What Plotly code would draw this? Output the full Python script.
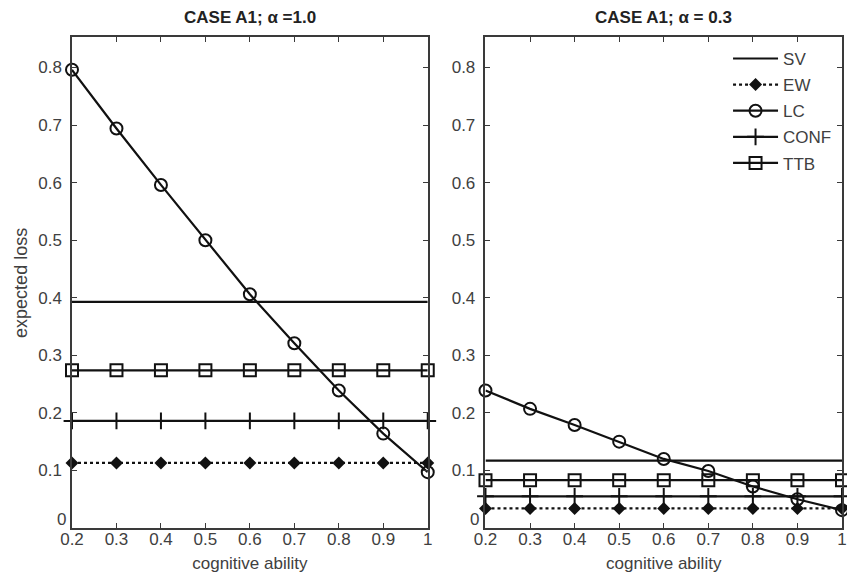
import plotly.graph_objects as go

ability = [0.2, 0.3, 0.4, 0.5, 0.6, 0.7, 0.8, 0.9, 1.0]

# Panel 1: alpha = 1.0
sv_a = [0.393] * 9
ew_a = [0.113] * 9
lc_a = [0.796, 0.694, 0.596, 0.500, 0.406, 0.321, 0.239, 0.164, 0.097]
conf_a = [0.186] * 9
ttb_a = [0.274] * 9

# Panel 2: alpha = 0.3
sv_b = [0.117] * 9
ew_b = [0.034] * 9
lc_b = [0.239, 0.207, 0.179, 0.150, 0.120, 0.099, 0.072, 0.050, 0.031]
conf_b = [0.055] * 9
ttb_b = [0.083] * 9

titles = ["CASE A1; α =1.0", "CASE A1; α = 0.3"]
y_label = "expected loss"
x_label = "cognitive ability"
yticks = [0, 0.1, 0.2, 0.3, 0.4, 0.5, 0.6, 0.7, 0.8]
ytick_text = ["0", "0.1", "0.2", "0.3", "0.4", "0.5", "0.6", "0.7", "0.8"]
xticks = [0.2, 0.3, 0.4, 0.5, 0.6, 0.7, 0.8, 0.9, 1.0]
xtick_text = ["0.2", "0.3", "0.4", "0.5", "0.6", "0.7", "0.8", "0.9", "1"]

INK = "#111111"
AX = "#3a3a3a"
TXT = "#404040"
FONT = "Liberation Sans, Arial, sans-serif"

fig = go.Figure()

def add_panel(sv, ew, lc, conf, ttb, xa, ya, show):
    common = dict(x=ability, xaxis=xa, yaxis=ya, cliponaxis=False, showlegend=show)
    fig.add_trace(go.Scatter(y=sv, name="SV", mode="lines", line=dict(color=INK, width=2.2),
                             legendgroup="SV", **common))
    fig.add_trace(go.Scatter(y=ew, name="EW", mode="lines+markers",
                             line=dict(color=INK, width=2.2, dash="dot"),
                             marker=dict(symbol="diamond", size=10, color=INK),
                             legendgroup="EW", **common))
    fig.add_trace(go.Scatter(y=lc, name="LC", mode="lines+markers", line=dict(color=INK, width=2.2),
                             marker=dict(symbol="circle-open", size=12, color=INK, line=dict(width=2)),
                             legendgroup="LC", **common))
    fig.add_trace(go.Scatter(y=conf, name="CONF", mode="lines+markers", line=dict(color=INK, width=2.2),
                             marker=dict(symbol="cross-thin-open", size=12, color=INK, line=dict(width=2, color=INK)),
                             legendgroup="CONF", **common))
    fig.add_trace(go.Scatter(y=ttb, name="TTB", mode="lines+markers", line=dict(color=INK, width=2.2),
                             marker=dict(symbol="square-open", size=12, color=INK, line=dict(width=2)),
                             legendgroup="TTB", **common))

add_panel(sv_a, ew_a, lc_a, conf_a, ttb_a, "x", "y", False)
add_panel(sv_b, ew_b, lc_b, conf_b, ttb_b, "x2", "y2", True)

axis_common = dict(showline=True, linecolor=AX, linewidth=1.5, mirror="ticks", ticks="inside",
                   ticklen=5, tickcolor=AX, tickwidth=1, showgrid=False, zeroline=False,
                   tickfont=dict(family=FONT, size=17, color=TXT))

xtitle = dict(text=x_label, font=dict(family=FONT, size=17, color=TXT), standoff=9)

# The "0" y-label sits raised above the axis corner (MATLAB style), so draw it as text there
ytick_text_axis = [""] + ytick_text[1:]

fig.update_layout(
    width=847, height=579,
    paper_bgcolor="white", plot_bgcolor="white",
    margin=dict(l=72, r=0, t=37, b=51),
    xaxis=dict(domain=[0, 0.462], range=[0.2, 1.0], tickvals=xticks, ticktext=xtick_text,
               anchor="y", title=xtitle, ticklabelstandoff=-5, **axis_common),
    yaxis=dict(domain=[0, 1], range=[0, 0.853], tickvals=yticks, ticktext=ytick_text_axis, anchor="x",
               ticklabelstandoff=5, **axis_common),
    xaxis2=dict(domain=[0.537, 1.0], range=[0.2, 1.0], tickvals=xticks, ticktext=xtick_text,
                anchor="y2", title=xtitle, ticklabelstandoff=-5, **axis_common),
    yaxis2=dict(domain=[0, 1], range=[0, 0.853], tickvals=yticks, ticktext=ytick_text_axis, anchor="x2",
                ticklabelstandoff=5, **axis_common),
    legend=dict(x=0.852, y=0.992, xanchor="left", yanchor="top", bgcolor="rgba(0,0,0,0)",
                font=dict(family=FONT, size=17, color=TXT), tracegroupgap=1, itemwidth=45),
    annotations=[
        dict(text="<b>" + titles[0] + "</b>", x=0.231, y=1.0, xref="paper", yref="paper",
             xanchor="center", yanchor="bottom", yshift=8, showarrow=False,
             font=dict(family="Liberation Sans Narrow, Liberation Sans, Arial", size=17, color="#222")),
        dict(text="<b>" + titles[1] + "</b>", x=0.7685, y=1.0, xref="paper", yref="paper",
             xanchor="center", yanchor="bottom", yshift=8, showarrow=False,
             font=dict(family="Liberation Sans Narrow, Liberation Sans, Arial", size=17, color="#222")),
        dict(text=y_label, x=-0.067, y=0.5, xref="paper", yref="paper", xanchor="center",
             yanchor="middle", textangle=-90, showarrow=False,
             font=dict(family=FONT, size=18, color=TXT)),
        dict(text=ytick_text[0], x=0.2, y=0, xref="x", yref="y", xanchor="right", yanchor="bottom",
             xshift=-4, yshift=-3, showarrow=False, font=dict(family=FONT, size=17, color=TXT)),
        dict(text=ytick_text[0], x=0.2, y=0, xref="x2", yref="y2", xanchor="right", yanchor="bottom",
             xshift=-4, yshift=-3, showarrow=False, font=dict(family=FONT, size=17, color=TXT)),
    ],
)

fig.write_html("out.html")
